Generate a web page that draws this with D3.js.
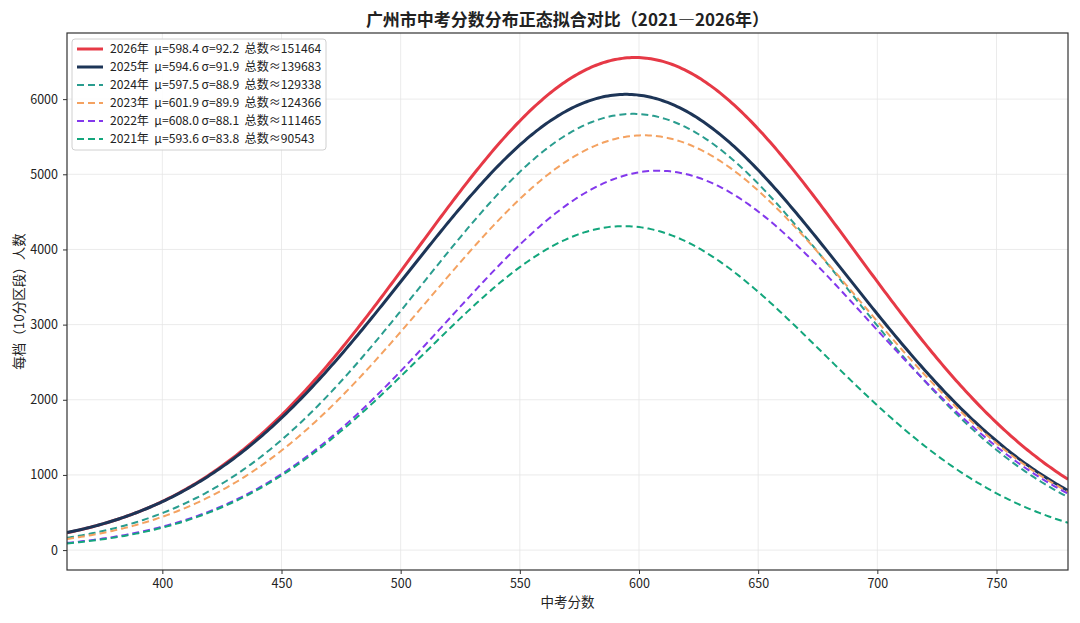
<!DOCTYPE html>
<html lang="zh">
<head>
<meta charset="UTF-8">
<title>广州市中考分数分布正态拟合对比</title>
<script src="https://cdn.jsdelivr.net/npm/d3@7"></script>
<style>
  body { margin: 0; background: #fff; }
  text { font-family: "Noto Sans CJK SC", "Noto Sans", sans-serif; fill: #222; }
</style>
</head>
<body>
<script>
// legend parameters of each year's normal fit
var years  = ["2026年", "2025年", "2024年", "2023年", "2022年", "2021年"];
var mus    = [598.4, 594.6, 597.5, 601.9, 608.0, 593.6];
var sigmas = [92.2, 91.9, 88.9, 89.9, 88.1, 83.8];
var totals = [151464, 139683, 129338, 124366, 111465, 90543];
var colors = ["#e63946", "#1d3557", "#2a9d8f", "#f4a261", "#8338ec", "#13a67c"];
var dashed = [false, false, true, true, true, true];
var binWidth = 10;
var xTicks = [400, 450, 500, 550, 600, 650, 700, 750];
var yTicks = [0, 1000, 2000, 3000, 4000, 5000, 6000];

var width = 1080, height = 623;
var m = { left: 67, right: 12, top: 33, bottom: 53 };

var svg = d3.select("body").append("svg")
  .attr("width", width).attr("height", height);

var x = d3.scaleLinear().domain([360, 780]).range([m.left, width - m.right]);
var y = d3.scaleLinear().domain([-265, 6880]).range([height - m.bottom, m.top]);

// grid
svg.append("g").selectAll("line").data(xTicks).enter().append("line")
  .attr("x1", d => x(d)).attr("x2", d => x(d))
  .attr("y1", m.top).attr("y2", height - m.bottom)
  .attr("stroke", "#e6e6e6").attr("stroke-width", 0.8);
svg.append("g").selectAll("line").data(yTicks).enter().append("line")
  .attr("y1", d => y(d)).attr("y2", d => y(d))
  .attr("x1", m.left).attr("x2", width - m.right)
  .attr("stroke", "#e6e6e6").attr("stroke-width", 0.8);

svg.append("defs").append("clipPath").attr("id", "clip")
  .append("rect").attr("x", m.left).attr("y", m.top)
  .attr("width", width - m.left - m.right).attr("height", height - m.top - m.bottom);

// fitted density curves: count per 10-point bin
var xs = d3.range(360, 780.5, 1);
function curve(i) {
  return xs.map(function(s) {
    var z = (s - mus[i]) / sigmas[i];
    return [s, totals[i] * binWidth * Math.exp(-0.5 * z * z) / (sigmas[i] * Math.sqrt(2 * Math.PI))];
  });
}
var line = d3.line().x(d => x(d[0])).y(d => y(d[1]));

svg.append("g").attr("clip-path", "url(#clip)")
  .selectAll("path").data(d3.range(years.length)).enter().append("path")
  .attr("d", i => line(curve(i)))
  .attr("fill", "none")
  .attr("stroke", i => colors[i])
  .attr("stroke-width", i => dashed[i] ? 2 : 3)
  .attr("stroke-dasharray", i => dashed[i] ? "7,4" : null);

// axes
var xAxis = svg.append("g").attr("transform", "translate(0," + (height - m.bottom) + ")")
  .call(d3.axisBottom(x).tickValues(xTicks).tickSize(4).tickPadding(5));
var yAxis = svg.append("g").attr("transform", "translate(" + m.left + ",0)")
  .call(d3.axisLeft(y).tickValues(yTicks).tickFormat(d3.format("d")).tickSize(4).tickPadding(5));
[xAxis, yAxis].forEach(function(g) {
  g.select(".domain").remove();
  g.selectAll("text").style("font-size", "12.5px").attr("fill", "#222");
  g.selectAll("line").attr("stroke", "#333");
});

svg.append("rect")
  .attr("x", m.left).attr("y", m.top)
  .attr("width", width - m.left - m.right).attr("height", height - m.top - m.bottom)
  .attr("fill", "none").attr("stroke", "#333").attr("stroke-width", 1.2);

// titles
svg.append("text").attr("x", (m.left + width - m.right) / 2).attr("y", 26)
  .attr("text-anchor", "middle").style("font-size", "17px").style("font-weight", "bold")
  .text("广州市中考分数分布正态拟合对比（2021—2026年）");
svg.append("text").attr("x", (m.left + width - m.right) / 2).attr("y", 607)
  .attr("text-anchor", "middle").style("font-size", "13.5px").text("中考分数");
svg.append("text")
  .attr("transform", "translate(24," + ((m.top + height - m.bottom) / 2) + ") rotate(-90)")
  .attr("text-anchor", "middle").style("font-size", "13.5px").text("每档（10分区段）人数");

// legend
var sp = "\u00a0\u00a0";
var lg = svg.append("g").attr("transform", "translate(72,39)");
lg.append("rect").attr("width", 254).attr("height", 111).attr("rx", 3)
  .attr("fill", "#fff").attr("fill-opacity", 0.85).attr("stroke", "#d0d0d0");
var rows = lg.selectAll("g.row").data(d3.range(years.length)).enter().append("g")
  .attr("transform", i => "translate(0," + (10 + i * 18) + ")");
rows.append("line").attr("x1", 5).attr("x2", 31).attr("y1", 0).attr("y2", 0)
  .attr("stroke", i => colors[i])
  .attr("stroke-width", i => dashed[i] ? 2 : 3)
  .attr("stroke-dasharray", i => dashed[i] ? "7,4" : null);
rows.append("text").attr("x", 38).attr("y", 4).style("font-size", "12.1px")
  .text(i => years[i] + sp + "μ=" + mus[i].toFixed(1) + " σ=" + sigmas[i].toFixed(1) + sp + "总数≈" + totals[i]);
</script>
</body>
</html>
